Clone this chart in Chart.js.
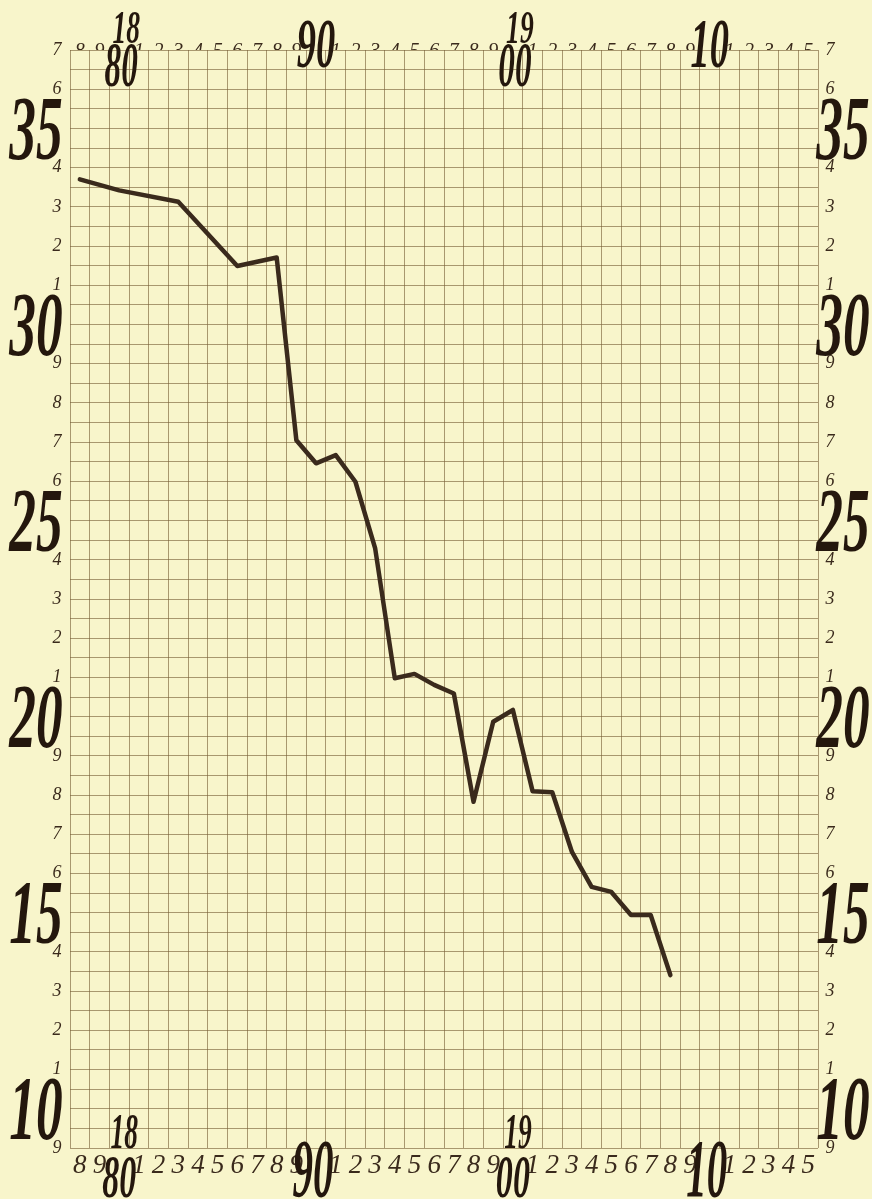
<!DOCTYPE html>
<html>
<head>
<meta charset="utf-8">
<script src="https://cdn.jsdelivr.net/npm/chart.js@4.4.1/dist/chart.umd.min.js"></script>
<style>
  html, body { margin: 0; padding: 0; background: #f8f5cb; }
  canvas { display: block; }
</style>
</head>
<body>
<canvas id="chart" width="872" height="1199"></canvas>
<script>
// yearly readings, 1878 - 1908
const lineYears = [1878, 1880, 1883, 1886, 1888, 1889, 1890, 1891, 1892, 1893, 1894, 1895, 1896,
  1897, 1898, 1899, 1900, 1901, 1902, 1903, 1904, 1905, 1906, 1907, 1908];
const lineValues = [33.7, 33.42, 33.13, 31.49, 31.71, 27.05, 26.46, 26.67, 25.99, 24.3, 20.98, 21.09, 20.81,
  20.59, 17.83, 19.87, 20.17, 18.1, 18.07, 16.55, 15.66, 15.53, 14.94, 14.94, 13.41];

// axis labels
const yearTicks = [1878, 1879, 1880, 1881, 1882, 1883, 1884, 1885, 1886, 1887, 1888, 1889, 1890,
  1891, 1892, 1893, 1894, 1895, 1896, 1897, 1898, 1899, 1900, 1901, 1902, 1903, 1904, 1905,
  1906, 1907, 1908, 1909, 1910, 1911, 1912, 1913, 1914, 1915];
const valueTicks = [9, 10, 11, 12, 13, 14, 15, 16, 17, 18, 19, 20, 21, 22, 23, 24, 25, 26, 27,
  28, 29, 30, 31, 32, 33, 34, 35, 36, 37];
const bigValues = [10, 15, 20, 25, 30, 35];
const decadeYears = [1880, 1890, 1900, 1910];
const decadeHeads = ['18', '', '19', ''];
const decadeTails = ['80', '90', '00', '10'];

const INK = '#24170d';
const PEN = '#3a2a1c';
const GRID = 'rgba(120, 95, 55, 0.62)';
const HAND = '"Liberation Serif", "DejaVu Serif", serif';

function bigText(ctx, text, cx, cy, size, sx) {
  ctx.save();
  ctx.translate(cx, cy);
  ctx.scale(sx, 1);
  ctx.font = 'italic bold ' + size + 'px ' + HAND;
  ctx.textAlign = 'center';
  ctx.textBaseline = 'alphabetic';
  ctx.fillText(text, 0, size * 0.33);
  ctx.restore();
}

// the large numbers at every fifth value and every decade
const bigLabels = {
  id: 'bigLabels',
  afterDraw(chart) {
    const ctx = chart.ctx;
    const { x, y } = chart.scales;
    const area = chart.chartArea;
    ctx.save();
    ctx.fillStyle = INK;
    bigValues.forEach(v => {
      const py = y.getPixelForValue(v);
      bigText(ctx, String(v), area.left - 34, py, 92, 0.58);
      bigText(ctx, String(v), area.right + 25, py, 92, 0.58);
    });
    decadeYears.forEach((yr, i) => {
      const px = x.getPixelForValue(yr);
      const head = decadeHeads[i];
      const tail = decadeTails[i];
      if (head) {
        bigText(ctx, head, px + 7, area.top - 22, 46, 0.6);
        bigText(ctx, tail, px + 2, area.top + 15, 64, 0.52);
        bigText(ctx, head, px + 5, area.bottom - 17, 50, 0.55);
        bigText(ctx, tail, px, area.bottom + 29, 62, 0.55);
      } else {
        bigText(ctx, tail, px, area.top - 6, 70, 0.55);
        bigText(ctx, tail, px - 3, area.bottom + 21, 82, 0.5);
      }
    });
    ctx.restore();
  }
};

function yearAxis(position, size, padding, height) {
  return {
    type: 'linear',
    position: position,
    min: 1877.5,
    max: 1915.5,
    afterBuildTicks: s => { s.ticks = yearTicks.map(v => ({ value: v })); },
    ticks: {
      autoSkip: false,
      maxRotation: 0,
      minRotation: 0,
      padding: padding,
      color: PEN,
      font: { family: HAND, size: size, style: 'italic' },
      callback: v => (v % 10 === 0 ? '' : String(v % 10))
    },
    grid: { display: false, drawTicks: false },
    border: { display: false },
    afterFit: s => { s.height = height; }
  };
}

function valueAxis(position, padding, width) {
  return {
    type: 'linear',
    position: position,
    min: 9,
    max: 37,
    afterBuildTicks: s => { s.ticks = valueTicks.map(v => ({ value: v })); },
    ticks: {
      autoSkip: false,
      padding: padding,
      crossAlign: 'center',
      color: PEN,
      font: { family: HAND, size: 18, style: 'italic' },
      callback: v => (v % 5 === 0 ? '' : String(v % 10))
    },
    grid: { display: false, drawTicks: false },
    border: { display: false },
    afterFit: s => { s.width = width; }
  };
}

new Chart(document.getElementById('chart').getContext('2d'), {
  type: 'line',
  data: {
    datasets: [{
      data: lineYears.map((yr, i) => ({ x: yr, y: lineValues[i] })),
      borderColor: PEN,
      borderWidth: 4.5,
      borderJoinStyle: 'round',
      borderCapStyle: 'round',
      pointRadius: 0,
      tension: 0,
      fill: false,
      xAxisID: 'x',
      yAxisID: 'y'
    }]
  },
  options: {
    responsive: false,
    animation: false,
    devicePixelRatio: 1,
    layout: { padding: 0 },
    plugins: { legend: { display: false }, tooltip: { enabled: false } },
    scales: {
      x: {
        type: 'linear',
        position: 'bottom',
        min: 1877.5,
        max: 1915.5,
        ticks: { display: false, stepSize: 1 },
        grid: { color: GRID, lineWidth: 1, drawTicks: false },
        border: { display: false },
        afterFit: s => { s.height = 0; }
      },
      y: {
        type: 'linear',
        position: 'left',
        min: 9,
        max: 37,
        ticks: { display: false, stepSize: 0.5 },
        grid: { color: GRID, lineWidth: 1, drawTicks: false },
        border: { display: false },
        afterFit: s => { s.width = 0; }
      },
      xt: yearAxis('top', 20, -14, 50),
      xb: yearAxis('bottom', 27, 2, 51),
      yl: valueAxis('left', 8.5, 70),
      yr: valueAxis('right', 7.5, 54)
    }
  },
  plugins: [bigLabels]
});
</script>
</body>
</html>
